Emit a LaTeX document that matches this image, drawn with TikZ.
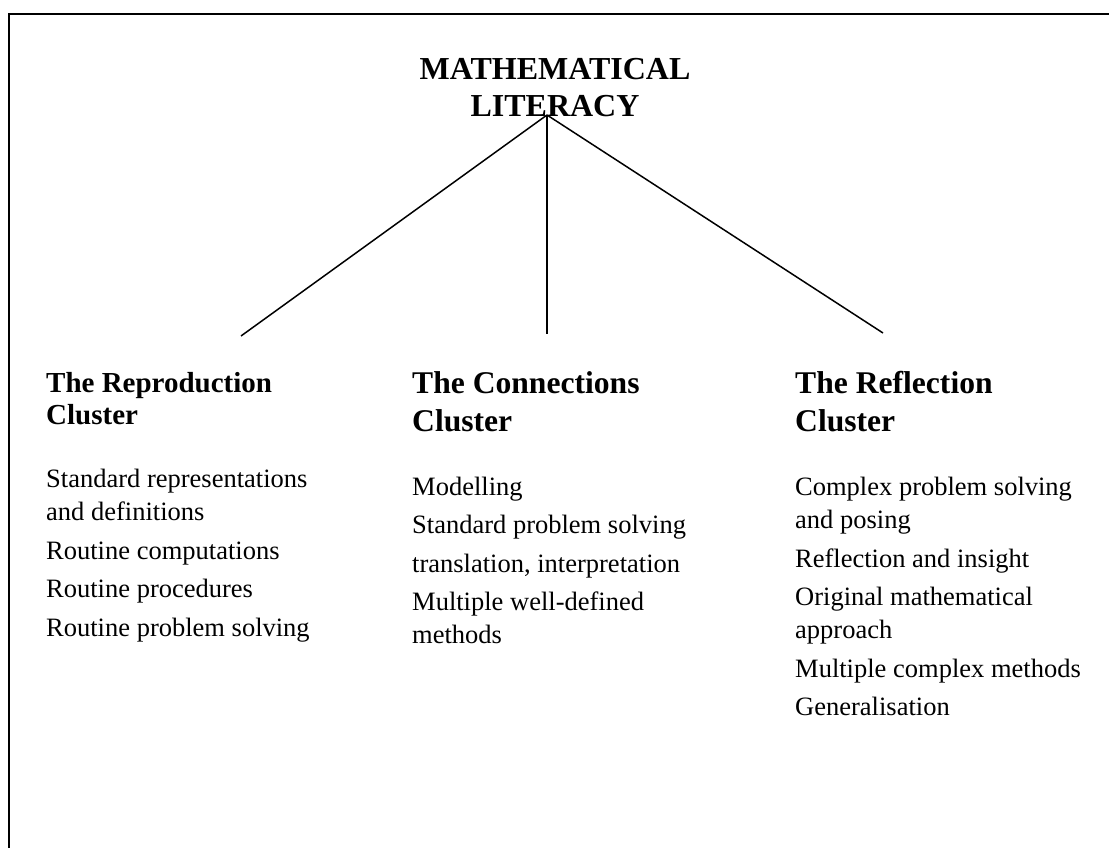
\documentclass[tikz,border=0pt]{standalone}
\usepackage{fontspec}
\setmainfont{Liberation Serif}
\begin{document}
\begin{tikzpicture}[x=1pt,y=-1pt,
  txt/.style={anchor=base west,inner sep=0pt,font=\fontsize{26.5}{30}\selectfont},
  hdsmall/.style={anchor=base west,inner sep=0pt,font=\fontsize{29}{33}\selectfont\bfseries},
  hdbig/.style={anchor=base west,inner sep=0pt,font=\fontsize{31.6}{36}\selectfont\bfseries},
  ttl/.style={anchor=base,inner sep=0pt,font=\fontsize{32}{37}\selectfont\bfseries},
  link/.style={line width=1.5pt}]
\useasboundingbox (0,0) rectangle (1109,848);
\begin{scope}
\clip (0,0) rectangle (1109,848);
\draw[line width=2pt] (9,14) rectangle (1130,870);
\end{scope}
% title
\node[ttl] (t1) at (555,80) {MATHEMATICAL};
\node[ttl] (t2) at (555,117) {LITERACY};
\coordinate (apex) at (547,115);
\coordinate (eL) at (241,336);
\coordinate (eM) at (547,334);
\coordinate (eR) at (883,333);
\draw[link] (apex) -- (eL);
\draw[link] (apex) -- (eM);
\draw[link] (apex) -- (eR);
% reproduction
\node[hdsmall] (h1a) at (46,392) {The Reproduction};
\node[hdsmall] (h1b) at (46,424) {Cluster};
\node[txt] (r1) at (46,487) {Standard representations};
\node[txt] (r2) at (46,520) {and definitions};
\node[txt] (r3) at (46,559) {Routine computations};
\node[txt] (r4) at (46,597) {Routine procedures};
\node[txt] (r5) at (46,636) {Routine problem solving};
% connections
\node[hdbig] (h2a) at (412,393) {The Connections};
\node[hdbig] (h2b) at (412,431) {Cluster};
\node[txt] (c1) at (412,495) {Modelling};
\node[txt] (c2) at (412,533) {Standard problem solving};
\node[txt] (c3) at (412,572) {translation, interpretation};
\node[txt] (c4) at (412,610) {Multiple well-defined};
\node[txt] (c5) at (412,643) {methods};
% reflection
\node[hdbig] (h3a) at (795,393) {The Reflection};
\node[hdbig] (h3b) at (795,431) {Cluster};
\node[txt] (f1) at (795,495) {Complex problem solving};
\node[txt] (f2) at (795,528) {and posing};
\node[txt] (f3) at (795,567) {Reflection and insight};
\node[txt] (f4) at (795,605) {Original mathematical};
\node[txt] (f5) at (795,638) {approach};
\node[txt] (f6) at (795,677) {Multiple complex methods};
\node[txt] (f7) at (795,715) {Generalisation};
\end{tikzpicture}
\end{document}
